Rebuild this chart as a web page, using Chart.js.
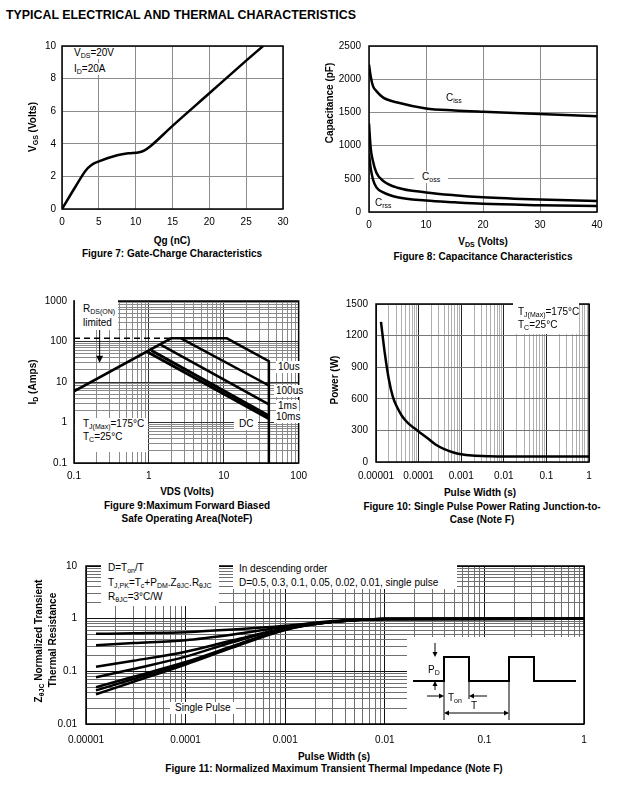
<!DOCTYPE html>
<html>
<head>
<meta charset="utf-8">
<title>Typical Electrical and Thermal Characteristics</title>
<script src="https://cdn.jsdelivr.net/npm/chart.js@4.4.1/dist/chart.umd.min.js"></script>
<style>
  body { margin: 0; background: #fff; }
  #page { position: relative; width: 619px; height: 787px; overflow: hidden;
          font-family: "Liberation Sans", Arial, sans-serif; color: #000; }
  .chart { position: absolute; }
  .t { position: absolute; white-space: nowrap; font-size: 10px; line-height: 12px; transform: translateY(-50%); }
  .c { transform: translate(-50%, -50%); }
  .r { transform: translate(-50%, -50%) rotate(-90deg); }
  .b { font-weight: bold; }
  .w { background: #fff; padding: 0 2px; }
  .box { position: absolute; background: #fff; }
  sub { font-size: 70%; vertical-align: -0.25em; line-height: 0; }
</style>
</head>
<body>
<div id="page">
  <div class="t b" style="left:6px;top:15px;font-size:12.4px">TYPICAL ELECTRICAL AND THERMAL CHARACTERISTICS</div>

  <div class="chart" style="left:22px;top:34px;width:275px;height:197px"><canvas id="fig7"></canvas></div>
  <div class="chart" style="left:330px;top:32px;width:281px;height:202px"><canvas id="fig8"></canvas></div>
  <div class="chart" style="left:34px;top:288px;width:280px;height:197px"><canvas id="fig9"></canvas></div>
  <div class="chart" style="left:336px;top:290px;width:267px;height:194px"><canvas id="fig10"></canvas></div>
  <div class="chart" style="left:46px;top:551px;width:552px;height:197px"><canvas id="fig11"></canvas></div>

  <!-- Figure 7 texts -->
  <div class="t r b" style="left:33px;top:127px">V<sub>GS</sub> (Volts)</div>
  <div class="t c b" style="left:172px;top:241px">Qg (nC)</div>
  <div class="t c b" style="left:172px;top:254px">Figure 7: Gate-Charge Characteristics</div>
  <div class="t w" style="left:72px;top:53px">V<sub>DS</sub>=20V</div>
  <div class="t w" style="left:72px;top:69px">I<sub>D</sub>=20A</div>

  <!-- Figure 8 texts -->
  <div class="t r b" style="left:330px;top:103px">Capacitance (pF)</div>
  <div class="t c b" style="left:483px;top:242px">V<sub>DS</sub> (Volts)</div>
  <div class="t c b" style="left:483px;top:257px">Figure 8: Capacitance Characteristics</div>
  <div class="t" style="left:446px;top:98px">C<sub>iss</sub></div>
  <div class="t w" style="left:414px;top:177px;padding:0 8px">C<sub>oss</sub></div>
  <div class="t" style="left:375px;top:203px">C<sub>rss</sub></div>

  <!-- Figure 9 texts -->
  <div class="t r b" style="left:33px;top:382px">I<sub>D</sub> (Amps)</div>
  <div class="t c b" style="left:187px;top:492px">VDS (Volts)</div>
  <div class="t c b" style="left:187px;top:506px">Figure 9:Maximum Forward Biased</div>
  <div class="t c b" style="left:187px;top:519px">Safe Operating Area(NoteF)</div>
  <div class="box" style="left:75px;top:299px;width:43px;height:31px"></div>
  <div class="t" style="left:83px;top:309px">R<sub>DS(ON)</sub></div>
  <div class="t" style="left:83px;top:323px">limited</div>
  <div class="box" style="left:75px;top:418px;width:73px;height:34px"></div>
  <div class="t" style="left:83px;top:424px">T<sub>J(Max)</sub>=175°C</div>
  <div class="t" style="left:83px;top:437px">T<sub>C</sub>=25°C</div>
  <div class="t w" style="left:276px;top:367px">10us</div>
  <div class="t w" style="left:274px;top:391px">100us</div>
  <div class="t w" style="left:276px;top:406px">1ms</div>
  <div class="t w" style="left:274px;top:417px">10ms</div>
  <div class="t w" style="left:234px;top:424px;padding:0 5px">DC</div>

  <!-- Figure 10 texts -->
  <div class="t r b" style="left:335px;top:380px">Power (W)</div>
  <div class="t c b" style="left:480px;top:493px">Pulse Width (s)</div>
  <div class="t c b" style="left:482px;top:507px">Figure 10: Single Pulse Power Rating Junction-to-</div>
  <div class="t c b" style="left:482px;top:520px">Case (Note F)</div>
  <div class="box" style="left:513px;top:302px;width:66px;height:32px"></div>
  <div class="t" style="left:518px;top:312px">T<sub>J(Max)</sub>=175°C</div>
  <div class="t" style="left:518px;top:325px">T<sub>C</sub>=25°C</div>

  <!-- Figure 11 texts -->
  <div class="t r b" style="left:39px;top:641px">Z<sub>θJC</sub> Normalized Transient</div>
  <div class="t r b" style="left:53px;top:640px">Thermal Resistance</div>
  <div class="t c b" style="left:334px;top:757px">Pulse Width (s)</div>
  <div class="t c b" style="left:334px;top:769px">Figure 11: Normalized Maximum Transient Thermal Impedance (Note F)</div>
  <div class="box" style="left:101px;top:562px;width:118px;height:44px"></div>
  <div class="t" style="left:108px;top:568px">D=T<sub>on</sub>/T</div>
  <div class="t" style="left:108px;top:583px">T<sub>J,PK</sub>=T<sub>c</sub>+P<sub>DM</sub>.Z<sub>θJC</sub>.R<sub>θJC</sub></div>
  <div class="t" style="left:108px;top:597px">R<sub>θJC</sub>=3°C/W</div>
  <div class="box" style="left:233px;top:562px;width:224px;height:27px"></div>
  <div class="t" style="left:239px;top:569px">In descending order</div>
  <div class="t" style="left:239px;top:583px">D=0.5, 0.3, 0.1, 0.05, 0.02, 0.01, single pulse</div>
  <div class="t w" style="left:170px;top:708px;padding:0 5px">Single Pulse</div>
  <div class="t" style="left:428px;top:670px">P<sub>D</sub></div>
  <div class="t" style="left:448px;top:698px">T<sub>on</sub></div>
  <div class="t" style="left:471px;top:706px">T</div>
</div>

<script>
// --- Figure 7: gate charge ---
const gateQg = [0, 1.8, 3.2, 4, 5, 7.5, 9, 10.5, 11.2, 12, 15, 20, 25, 27.3];
const gateVgs = [0, 1.35, 2.35, 2.7, 2.92, 3.3, 3.42, 3.48, 3.6, 3.85, 5.1, 7.1, 9.1, 10];

// --- Figure 8: capacitance ---
const capVds = [0, 0.3, 0.7, 1.3, 2.5, 5, 10, 15, 20, 30, 40];
const capCiss = [2220, 2040, 1895, 1820, 1722, 1648, 1560, 1530, 1510, 1476, 1442];
const capCoss = [1330, 960, 763, 590, 467, 365, 295, 252, 221, 187, 167];
const capCrss = [876, 660, 490, 370, 295, 221, 172, 145, 123, 103, 89];

// --- Figure 9: safe operating area ---
const soaVds10us = [0.1, 1.98, 11, 40, 40];
const soaId10us = [5.9, 120, 120, 32.6, 0.1];
const soaVdsRds = [0.1, 1.98];
const soaIdRds = [120, 120];
const soaVds100us = [2.69, 40];
const soaId100us = [120, 8.2];
const soaVds1ms = [1.39, 40];
const soaId1ms = [86, 2.8];
const soaVds10ms = [1.08, 40];
const soaId10ms = [60, 1.46];
const soaVdsDC = [0.96, 40];
const soaIdDC = [55, 1.25];

// --- Figure 10: single pulse power ---
const pulseWidth = [1.31e-5, 1.6e-5, 2e-5, 2.5e-5, 3.2e-5, 4e-5, 5e-5, 6.3e-5, 8e-5, 1e-4,
    1.6e-4, 2.5e-4, 4e-4, 6.3e-4, 1e-3, 1.8e-3, 4.7e-3, 1e-2, 0.1, 1];
const pulsePower = [1330, 1040, 785, 615, 512, 442, 392, 352, 320, 290,
    228, 166, 122, 93, 73, 61, 54, 52, 52, 52];

// --- Figure 11: normalized transient thermal impedance ---
const zthWidth = [1.26e-5, 3e-5, 1e-4, 3e-4, 1e-3, 3e-3, 1e-2, 1];
const zthD05 = [0.515, 0.53, 0.555, 0.62, 0.73, 0.90, 0.99, 1.0];
const zthD03 = [0.314, 0.344, 0.39, 0.50, 0.70, 0.88, 0.99, 1.0];
const zthD01 = [0.122, 0.159, 0.235, 0.39, 0.66, 0.87, 0.99, 1.0];
const zthD005 = [0.077, 0.111, 0.19, 0.36, 0.65, 0.87, 0.99, 1.0];
const zthD002 = [0.05, 0.079, 0.15, 0.305, 0.63, 0.87, 0.99, 1.0];
const zthD001 = [0.0435, 0.0714, 0.142, 0.295, 0.62, 0.87, 0.99, 1.0];
const zthSingle = [0.0367, 0.0634, 0.135, 0.285, 0.61, 0.87, 0.99, 1.0];

Chart.defaults.font.family = "'Liberation Sans', Arial, sans-serif";
Chart.defaults.font.size = 10;
Chart.defaults.color = "#000";

const pts = (xs, ys) => xs.map((x, i) => ({ x: x, y: ys[i] }));

// black frame round the plot area
Chart.register({
    id: "frame",
    afterDatasetsDraw(chart, args, opts) {
        const { ctx, chartArea: a } = chart;
        ctx.save();
        ctx.strokeStyle = "#000";
        ctx.lineWidth = opts.width || 1.5;
        ctx.strokeRect(a.left, a.top, a.right - a.left, a.bottom - a.top);
        ctx.restore();
    }
});

function linAxis(min, max, step, size, pad, isX, gridColor) {
    return {
        type: "linear",
        min: min,
        max: max,
        border: { display: false },
        grid: { color: gridColor, drawTicks: false },
        ticks: {
            stepSize: step,
            padding: pad,
            maxRotation: 0,
            autoSkip: false,
            callback: (v) => String(v)
        },
        afterFit: (s) => { if (isX) s.height = size; else s.width = size; }
    };
}

function logTicks(min, max) {
    const out = [];
    for (let e = Math.round(Math.log10(min)); e < Math.round(Math.log10(max)); e++) {
        for (let m = 1; m < 10; m++) out.push({ value: m * Math.pow(10, e), major: m === 1 });
    }
    out.push({ value: max, major: true });
    return out;
}

function fmtLog(v) {
    const e = Math.round(Math.log10(v));
    return e < 0 ? v.toFixed(-e) : String(Math.round(v));
}

function logAxis(min, max, size, pad, isX, minorColor, majorColor) {
    return {
        type: "logarithmic",
        min: min,
        max: max,
        border: { display: false },
        grid: {
            drawTicks: false,
            color: (c) => (c.tick && c.tick.major ? majorColor : minorColor)
        },
        ticks: {
            padding: pad,
            maxRotation: 0,
            autoSkip: false,
            callback: (v, i, t) => (t[i].major ? fmtLog(v) : "")
        },
        afterBuildTicks: (s) => { s.ticks = logTicks(min, max); },
        afterFit: (s) => { if (isX) s.height = size; else s.width = size; }
    };
}

function baseOptions(xAxis, yAxis) {
    return {
        responsive: true,
        maintainAspectRatio: false,
        animation: false,
        events: [],
        layout: { padding: { top: 10, right: 14, bottom: 2, left: 0 } },
        plugins: { legend: { display: false }, tooltip: { enabled: false }, frame: { width: 1.5 } },
        elements: { point: { radius: 0 }, line: { borderColor: "#000", borderWidth: 2.5, fill: false } },
        scales: { x: xAxis, y: yAxis }
    };
}

function arrowHead(ctx, x, y, dx, dy, s) {
    // tip at (x, y), pointing along (dx, dy)
    ctx.beginPath();
    ctx.moveTo(x, y);
    ctx.lineTo(x - dx * s - dy * s * 0.5, y - dy * s - dx * s * 0.5);
    ctx.lineTo(x - dx * s + dy * s * 0.5, y - dy * s + dx * s * 0.5);
    ctx.closePath();
    ctx.fill();
}

// --- Figure 7 ---
new Chart(document.getElementById("fig7"), {
    type: "line",
    data: { datasets: [{ data: pts(gateQg, gateVgs), cubicInterpolationMode: "monotone" }] },
    options: baseOptions(
        linAxis(0, 30, 5, 20, 7, true, "#8c8c8c"),
        linAxis(0, 10, 2, 40, 6, false, "#8c8c8c")
    )
});

// --- Figure 8 ---
new Chart(document.getElementById("fig8"), {
    type: "line",
    data: {
        datasets: [
            { data: pts(capVds, capCiss), cubicInterpolationMode: "monotone" },
            { data: pts(capVds, capCoss), cubicInterpolationMode: "monotone" },
            { data: pts(capVds, capCrss), cubicInterpolationMode: "monotone" }
        ]
    },
    options: baseOptions(
        linAxis(0, 40, 10, 20, 7, true, "#8c8c8c"),
        linAxis(0, 2500, 500, 39, 8, false, "#8c8c8c")
    )
});

// --- Figure 9 ---
const rdsArrow = {
    id: "rdsArrow",
    afterDatasetsDraw(chart) {
        const { ctx, scales } = chart;
        const x = scales.x.getPixelForValue(0.22);
        const y0 = scales.y.getPixelForValue(200);
        const y1 = scales.y.getPixelForValue(30);
        ctx.save();
        ctx.strokeStyle = "#000";
        ctx.fillStyle = "#000";
        ctx.lineWidth = 1;
        ctx.beginPath();
        ctx.moveTo(x, y0);
        ctx.lineTo(x, y1 - 6);
        ctx.stroke();
        arrowHead(ctx, x, y1, 0, 1, 7);
        ctx.restore();
    }
};

new Chart(document.getElementById("fig9"), {
    type: "line",
    data: {
        datasets: [
            { data: pts(soaVdsRds, soaIdRds), borderWidth: 1.5, borderDash: [6, 4] },
            { data: pts(soaVds10us, soaId10us) },
            { data: pts(soaVds100us, soaId100us) },
            { data: pts(soaVds1ms, soaId1ms) },
            { data: pts(soaVds10ms, soaId10ms), borderWidth: 3 },
            { data: pts(soaVdsDC, soaIdDC), borderWidth: 3 }
        ]
    },
    options: baseOptions(
        logAxis(0.1, 100, 20, 7, true, "#8a8a8a", "#333"),
        logAxis(0.1, 1000, 40, 7, false, "#8a8a8a", "#333")
    ),
    plugins: [rdsArrow]
});

// --- Figure 10 ---
new Chart(document.getElementById("fig10"), {
    type: "line",
    data: { datasets: [{ data: pts(pulseWidth, pulsePower), cubicInterpolationMode: "monotone" }] },
    options: baseOptions(
        logAxis(1e-5, 1, 20, 8, true, "#b0b0b0", "#222"),
        linAxis(0, 1500, 300, 40, 8, false, "#777")
    )
});

// --- Figure 11 ---
const pulseInset = {
    id: "pulseInset",
    beforeDatasetsDraw(chart) {
        const { ctx, chartArea: a } = chart;
        const bx = a.right - 177;
        const by = a.bottom - 87;
        ctx.save();
        ctx.fillStyle = "#fff";
        ctx.fillRect(bx, by, a.right - bx, a.bottom - by);
        ctx.strokeStyle = "#000";
        ctx.fillStyle = "#000";
        // waveform
        ctx.lineWidth = 2;
        ctx.beginPath();
        ctx.moveTo(bx + 6, by + 44);
        ctx.lineTo(bx + 37, by + 44);
        ctx.lineTo(bx + 37, by + 20);
        ctx.lineTo(bx + 62, by + 20);
        ctx.lineTo(bx + 62, by + 44);
        ctx.lineTo(bx + 102, by + 44);
        ctx.lineTo(bx + 102, by + 20);
        ctx.lineTo(bx + 127, by + 20);
        ctx.lineTo(bx + 127, by + 44);
        ctx.lineTo(bx + 169, by + 44);
        ctx.stroke();
        // dimension lines
        ctx.lineWidth = 1;
        ctx.beginPath();
        ctx.moveTo(bx + 37, by + 44); ctx.lineTo(bx + 37, by + 83);
        ctx.moveTo(bx + 102, by + 44); ctx.lineTo(bx + 102, by + 83);
        ctx.moveTo(bx + 62, by + 44); ctx.lineTo(bx + 62, by + 62);
        ctx.moveTo(bx + 28, by + 6); ctx.lineTo(bx + 28, by + 16);
        ctx.moveTo(bx + 28, by + 53); ctx.lineTo(bx + 28, by + 48);
        ctx.moveTo(bx + 20, by + 59); ctx.lineTo(bx + 33, by + 59);
        ctx.moveTo(bx + 80, by + 59); ctx.lineTo(bx + 66, by + 59);
        ctx.moveTo(bx + 41, by + 76); ctx.lineTo(bx + 98, by + 76);
        ctx.stroke();
        arrowHead(ctx, bx + 28, by + 20, 0, 1, 5);
        arrowHead(ctx, bx + 28, by + 44, 0, -1, 5);
        arrowHead(ctx, bx + 37, by + 59, 1, 0, 5);
        arrowHead(ctx, bx + 62, by + 59, -1, 0, 5);
        arrowHead(ctx, bx + 37, by + 76, -1, 0, 5);
        arrowHead(ctx, bx + 102, by + 76, 1, 0, 5);
        ctx.restore();
    }
};

const zthSeries = [zthD05, zthD03, zthD01, zthD005, zthD002, zthD001, zthSingle];
new Chart(document.getElementById("fig11"), {
    type: "line",
    data: {
        datasets: zthSeries.map((ys) => ({
            data: pts(zthWidth, ys),
            cubicInterpolationMode: "monotone",
            borderWidth: 2.5
        }))
    },
    options: baseOptions(
        logAxis(1e-5, 1, 22, 10, true, "#707070", "#111"),
        logAxis(0.01, 10, 40, 9, false, "#707070", "#111")
    ),
    plugins: [pulseInset]
});
</script>
</body>
</html>
